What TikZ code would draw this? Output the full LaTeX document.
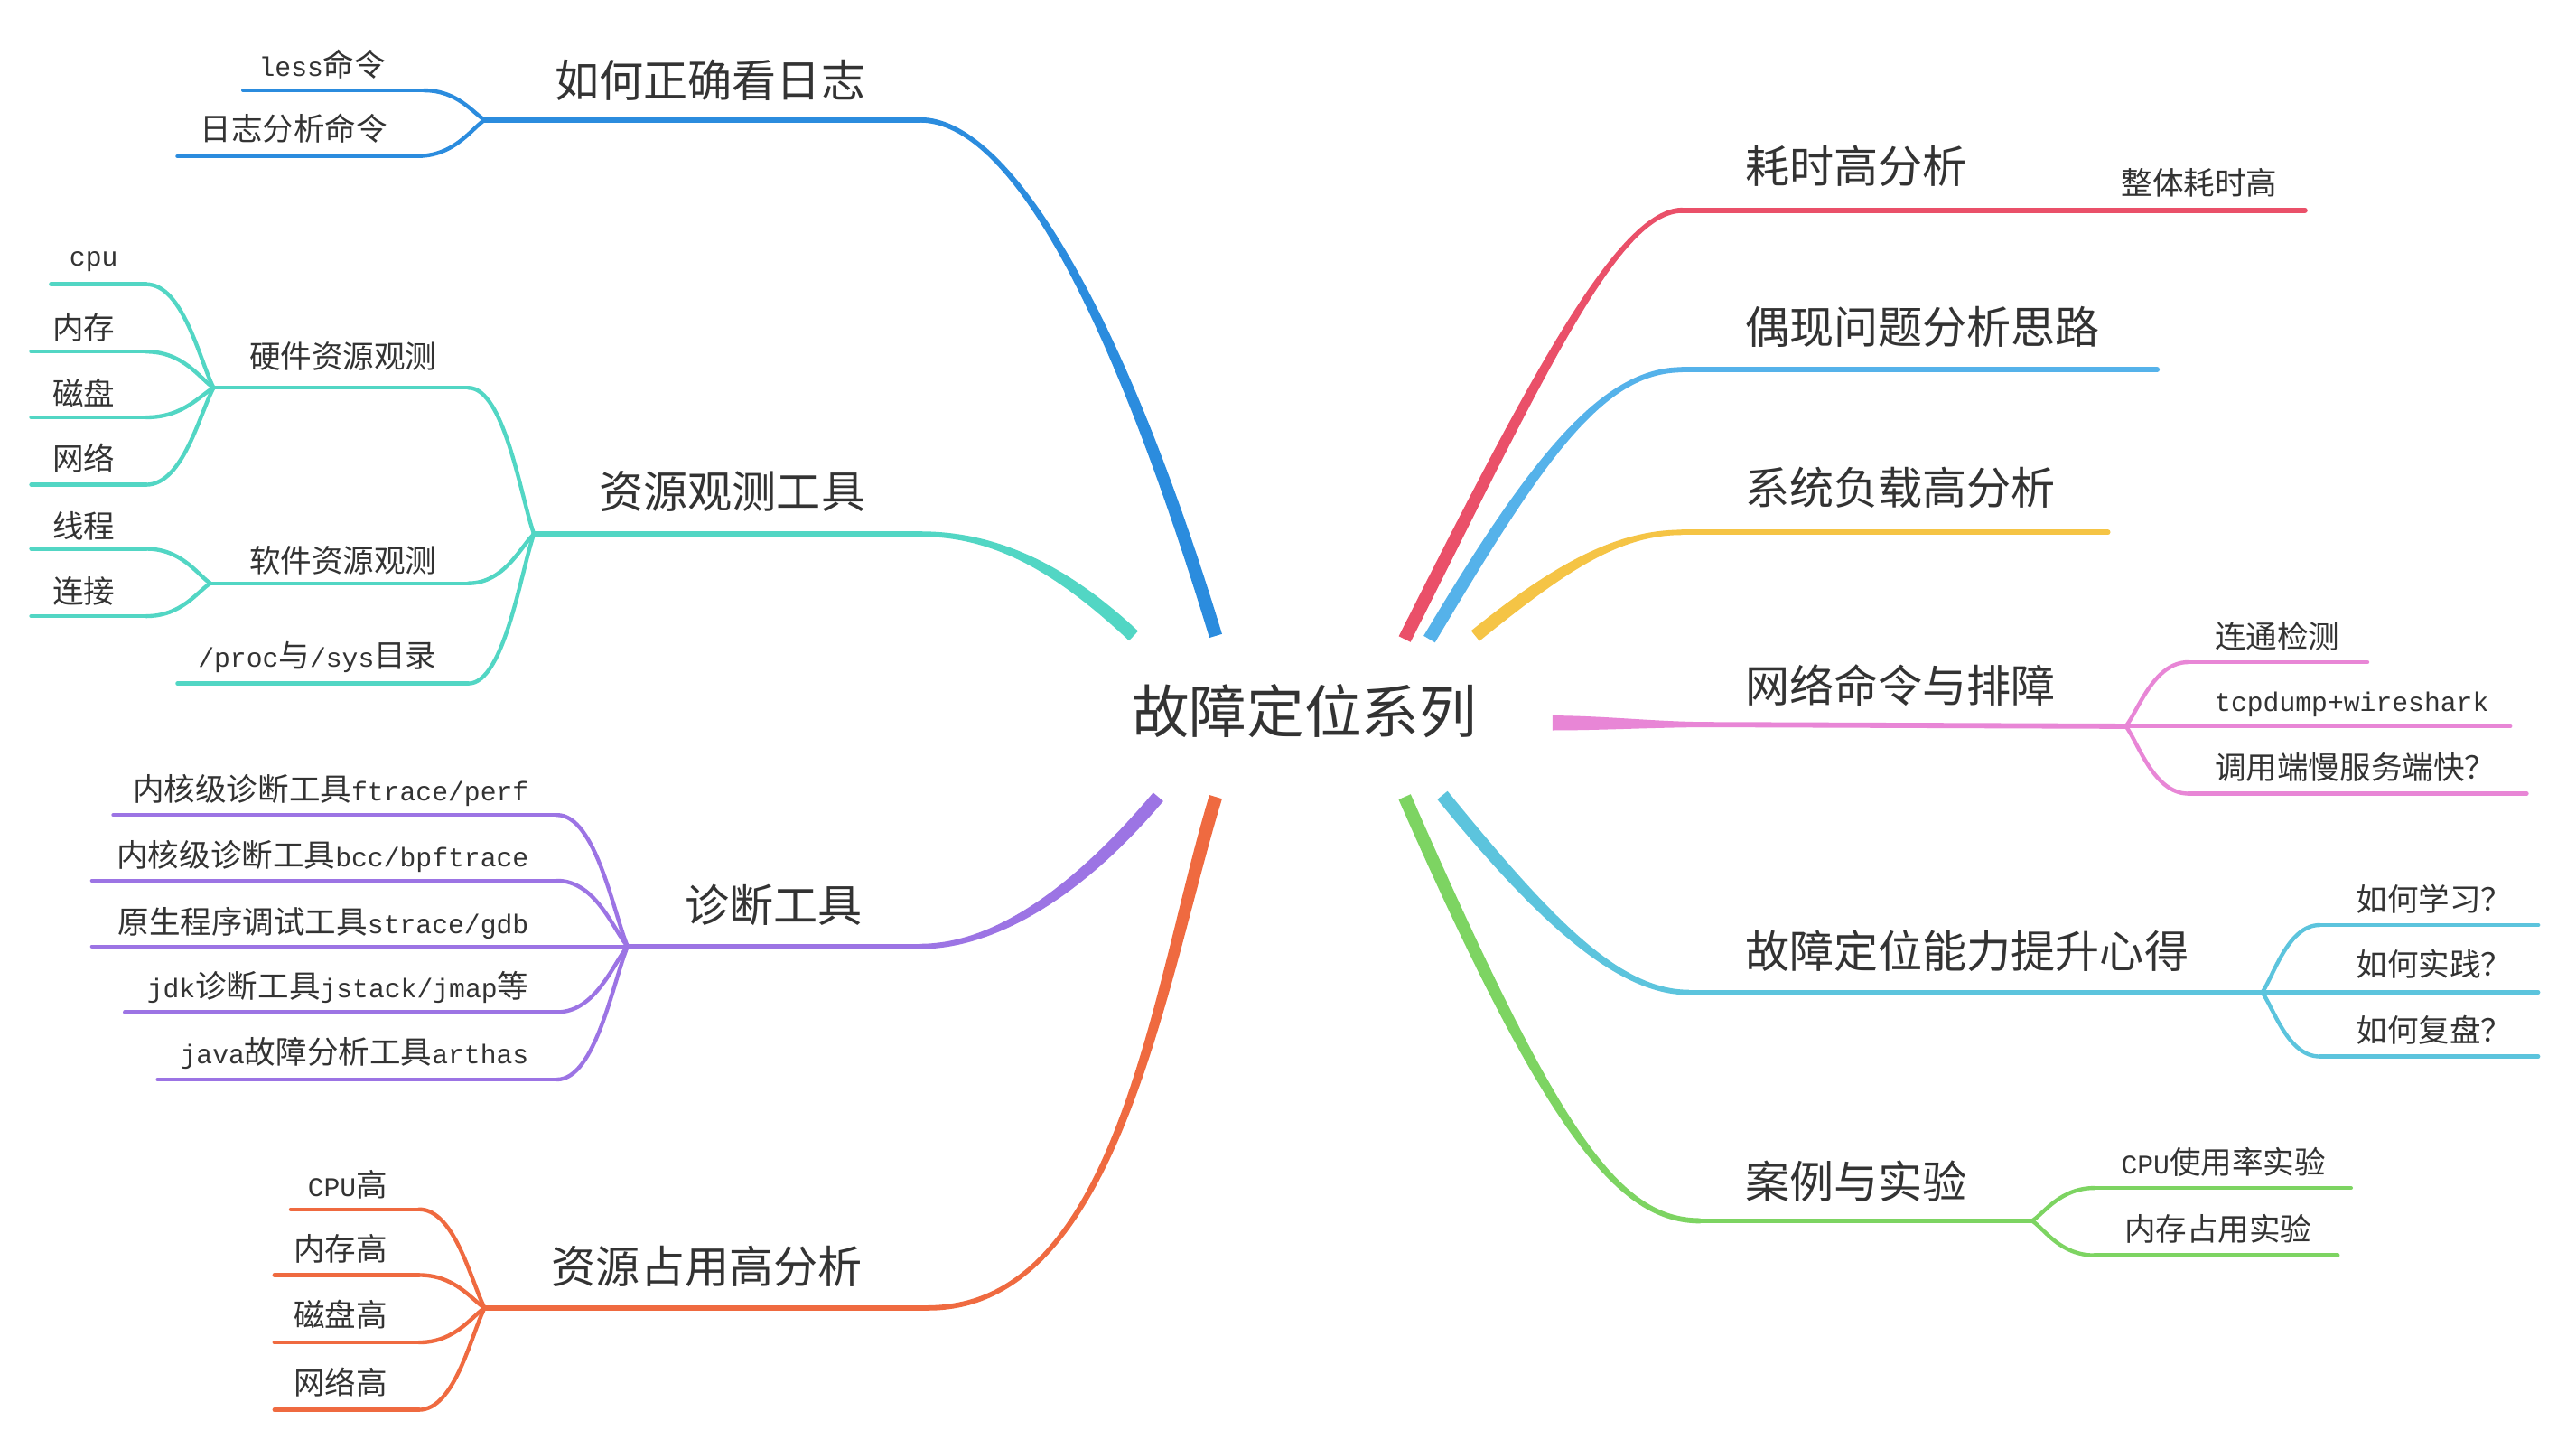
\documentclass[tikz,border=0pt]{standalone}
\usepackage{fontspec}
\setmainfont{Noto Sans CJK SC}
\newfontfamily\lat[Scale=0.86]{Liberation Mono}
\usetikzlibrary{calc}
\definecolor{txtc}{HTML}{333333}
\definecolor{cA}{HTML}{2B8CDE}
\definecolor{cB}{HTML}{52D6C4}
\definecolor{cC}{HTML}{9C74E4}
\definecolor{cD}{HTML}{EF6A40}
\definecolor{cE}{HTML}{EA5069}
\definecolor{cF}{HTML}{55B2EA}
\definecolor{cG}{HTML}{F5C445}
\definecolor{cH}{HTML}{E886D6}
\definecolor{cI}{HTML}{5CC4DD}
\definecolor{cJ}{HTML}{7DD462}
\tikzset{
  rootlbl/.style={inner sep=0pt,text=txtc,font=\fontsize{35}{40}\selectfont},
  mlbl/.style={inner sep=0pt,text=txtc,font=\fontsize{27}{30}\selectfont},
  clbl/.style={inner sep=0pt,text=txtc,font=\fontsize{19}{22}\selectfont},
  mainln/.style={line width=3.2pt,line cap=round},
  subln/.style={line width=2.4pt,line cap=round},
}
% tapered cubic: #1 colour, #2 thin end, #3 ctrl1, #4 ctrl2, #5 thick end, #6 half width thin, #7 half width thick
\newcommand\mytaper[7]{%
  \path ($(#2)!#6!90:(#3)$) coordinate (ta)
        ($(#2)!#6!-90:(#3)$) coordinate (tb)
        ($(#5)!#7!-90:(#4)$) coordinate (tc)
        ($(#5)!#7!90:(#4)$) coordinate (td);
  \fill[#1] (ta) .. controls ($(#3)+(ta)-(#2)$) and ($(#4)+(tc)-(#5)$) .. (tc)
        -- (td) .. controls ($(#4)+(td)-(#5)$) and ($(#3)+(tb)-(#2)$) .. (tb) -- cycle;}
% child link from branch point #1 to child line start #2
\newcommand\clink[3]{%
  \draw[subln,#3] let \p1=(#1), \p2=(#2) in
    (#2) .. controls ({\x2+0.55*(\x1-\x2)},{\y2}) and ({\x1-0.2*(\x1-\x2)},{\y1-0.25*(\y1-\y2)}) .. (#1);}
% child line: #1 colour, #2 branch point, #3 id, #4 free x, #5 link x, #6 y
\newcommand\kid[6]{%
  \coordinate (#3s) at (#4,#6);
  \coordinate (#3e) at (#5,#6);
  \draw[subln,#1] (#3s) -- (#3e);
  \clink{#2}{#3e}{#1}}
\begin{document}
\begin{tikzpicture}[x=1pt,y=-1pt]
\useasboundingbox (0,0) rectangle (1568,870);
\fill[white] (0,0) rectangle (1568,870);

\node[rootlbl] (root) at (794,433) {故障定位系列};

% ---------- A blue
\coordinate (Ar) at (740,387);
\coordinate (Ac) at (560,73);
\coordinate (A1) at (615,73);
\coordinate (A2) at (680,190);
\coordinate (Ab) at (295,73);
\mytaper{cA}{Ac}{A1}{A2}{Ar}{1.6pt}{4pt}
\draw[mainln,cA] (Ab) -- (Ac);
\node[mlbl,anchor=east] (nA) at (527,49) {如何正确看日志};
\kid{cA}{Ab}{a1}{148}{258}{55}
\kid{cA}{Ab}{a2}{108}{254}{95}
\node[clbl,anchor=east] (na1) at (235,39) {{\lat less}命令};
\node[clbl,anchor=east] (na2) at (236,78) {日志分析命令};

% ---------- B teal
\coordinate (Br) at (690,387);
\coordinate (Bc) at (560,325);
\coordinate (B1) at (605,325);
\coordinate (B2) at (645,345);
\coordinate (Bb) at (325,325);
\mytaper{cB}{Bc}{B1}{B2}{Br}{1.6pt}{4pt}
\draw[mainln,cB] (Bb) -- (Bc);
\node[mlbl,anchor=east] (nB) at (527,299) {资源观测工具};
\coordinate (Hb) at (130,236);
\coordinate (Sb) at (128,355);
\kid{cB}{Bb}{b1}{130}{285}{236}
\kid{cB}{Bb}{b2}{128}{285}{355}
\kid{cB}{Bb}{b3}{108}{285}{416}
\node[clbl,anchor=east] (nb1) at (266,217) {硬件资源观测};
\node[clbl,anchor=east] (nb2) at (266,341) {软件资源观测};
\node[clbl,anchor=east] (nb3) at (266,400) {{\lat /proc}与{\lat /sys}目录};
\kid{cB}{Hb}{h1}{31}{89}{173}
\kid{cB}{Hb}{h2}{19}{89}{214}
\kid{cB}{Hb}{h3}{19}{89}{254}
\kid{cB}{Hb}{h4}{19}{89}{295}
\kid{cB}{Sb}{s1}{19}{89}{334}
\kid{cB}{Sb}{s2}{19}{89}{375}
\node[clbl] (nh1) at (57,159) {\lat cpu};
\node[clbl] (nh2) at (51,199) {内存};
\node[clbl] (nh3) at (51,239) {磁盘};
\node[clbl] (nh4) at (51,279) {网络};
\node[clbl] (ns1) at (51,320) {线程};
\node[clbl] (ns2) at (51,360) {连接};

% ---------- C purple
\coordinate (Cr) at (705,485);
\coordinate (Cc) at (560,576);
\coordinate (C1) at (600,576);
\coordinate (C2) at (650,550);
\coordinate (Cb) at (382,576);
\mytaper{cC}{Cc}{C1}{C2}{Cr}{1.6pt}{4pt}
\draw[mainln,cC] (Cb) -- (Cc);
\node[mlbl,anchor=east] (nC) at (525,551) {诊断工具};
\kid{cC}{Cb}{c1}{69}{339}{496}
\kid{cC}{Cb}{c2}{56}{339}{536}
\kid{cC}{Cb}{c3}{56}{339}{576}
\kid{cC}{Cb}{c4}{76}{339}{616}
\kid{cC}{Cb}{c5}{96}{339}{657}
\node[clbl,anchor=east] (nc1) at (322,481) {内核级诊断工具{\lat ftrace/perf}};
\node[clbl,anchor=east] (nc2) at (322,521) {内核级诊断工具{\lat bcc/bpftrace}};
\node[clbl,anchor=east] (nc3) at (322,562) {原生程序调试工具{\lat strace/gdb}};
\node[clbl,anchor=east] (nc4) at (322,601) {{\lat jdk}诊断工具{\lat jstack/jmap}等};
\node[clbl,anchor=east] (nc5) at (322,641) {{\lat java}故障分析工具{\lat arthas}};

% ---------- D orange
\coordinate (Dr) at (740,485);
\coordinate (Dc) at (565,796);
\coordinate (D1) at (680,796);
\coordinate (D2) at (705,600);
\coordinate (Db) at (295,796);
\mytaper{cD}{Dc}{D1}{D2}{Dr}{1.6pt}{4pt}
\draw[mainln,cD] (Db) -- (Dc);
\node[mlbl,anchor=east] (nD) at (525,771) {资源占用高分析};
\kid{cD}{Db}{d1}{177}{255}{736}
\kid{cD}{Db}{d2}{167}{255}{776}
\kid{cD}{Db}{d3}{167}{255}{817}
\kid{cD}{Db}{d4}{167}{255}{858}
\node[clbl,anchor=east] (nd1) at (236,721) {{\lat CPU}高};
\node[clbl,anchor=east] (nd2) at (236,760) {内存高};
\node[clbl,anchor=east] (nd3) at (236,800) {磁盘高};
\node[clbl,anchor=east] (nd4) at (236,841) {网络高};

% ---------- E red
\coordinate (Er) at (855,389);
\coordinate (Ec) at (1024,128);
\coordinate (E1) at (985,128);
\coordinate (E2) at (935,230);
\coordinate (Eb) at (1262,128);
\coordinate (Ee) at (1403,128);
\mytaper{cE}{Ec}{E1}{E2}{Er}{1.6pt}{4pt}
\draw[mainln,cE] (Ec) -- (Eb);
\draw[mainln,cE] (Eb) -- (Ee);
\node[mlbl,anchor=west] (nE) at (1062,101) {耗时高分析};
\node[clbl,anchor=west] (ne1) at (1291,111) {整体耗时高};

% ---------- F light blue
\coordinate (Fr) at (870,389);
\coordinate (Fc) at (1024,225);
\coordinate (F1) at (975,225);
\coordinate (F2) at (935,280);
\coordinate (Fe) at (1313,225);
\mytaper{cF}{Fc}{F1}{F2}{Fr}{1.6pt}{4pt}
\draw[mainln,cF] (Fc) -- (Fe);
\node[mlbl,anchor=west] (nF) at (1062,199) {偶现问题分析思路};

% ---------- G yellow
\coordinate (Gr) at (898,387);
\coordinate (Gc) at (1024,324);
\coordinate (G1) at (985,324);
\coordinate (G2) at (950,345);
\coordinate (Ge) at (1283,324);
\mytaper{cG}{Gc}{G1}{G2}{Gr}{1.6pt}{4pt}
\draw[mainln,cG] (Gc) -- (Ge);
\node[mlbl,anchor=west] (nG) at (1062,297) {系统负载高分析};

% ---------- H pink
\coordinate (Hr) at (945,440);
\coordinate (Hc) at (1040,441);
\coordinate (H1) at (1010,441);
\coordinate (H2) at (975,440);
\coordinate (Hbr) at (1294,442);
\mytaper{cH}{Hc}{H1}{H2}{Hr}{1.6pt}{4.5pt}
\draw[mainln,cH] (Hc) -- (Hbr);
\node[mlbl,anchor=west] (nH) at (1062,417) {网络命令与排障};
\kid{cH}{Hbr}{k1}{1441}{1332}{403}
\kid{cH}{Hbr}{k2}{1528}{1330}{442}
\kid{cH}{Hbr}{k3}{1538}{1332}{483}
\node[clbl,anchor=west] (nk1) at (1348,387) {连通检测};
\node[clbl,anchor=west] (nk2) at (1348,429) {\lat tcpdump+wireshark};
\node[clbl,anchor=west] (nk3) at (1348,467) {调用端慢服务端快？};

% ---------- I cyan
\coordinate (Ir) at (878,484);
\coordinate (Ic) at (1028,604);
\coordinate (I1) at (985,604);
\coordinate (I2) at (940,560);
\coordinate (Ib) at (1377,604);
\mytaper{cI}{Ic}{I1}{I2}{Ir}{1.6pt}{4pt}
\draw[mainln,cI] (Ic) -- (Ib);
\node[mlbl,anchor=west] (nI) at (1062,579) {故障定位能力提升心得};
\kid{cI}{Ib}{i1}{1545}{1412}{563}
\kid{cI}{Ib}{i2}{1545}{1412}{604}
\kid{cI}{Ib}{i3}{1545}{1412}{643}
\node[clbl,anchor=west] (ni1) at (1434,547) {如何学习？};
\node[clbl,anchor=west] (ni2) at (1434,587) {如何实践？};
\node[clbl,anchor=west] (ni3) at (1434,627) {如何复盘？};

% ---------- J green
\coordinate (Jr) at (855,485);
\coordinate (Jc) at (1035,743);
\coordinate (J1) at (985,743);
\coordinate (J2) at (945,690);
\coordinate (Jb) at (1237,743);
\mytaper{cJ}{Jc}{J1}{J2}{Jr}{1.6pt}{4pt}
\draw[mainln,cJ] (Jc) -- (Jb);
\node[mlbl,anchor=west] (nJ) at (1062,719) {案例与实验};
\kid{cJ}{Jb}{j1}{1431}{1275}{723}
\kid{cJ}{Jb}{j2}{1423}{1275}{764}
\node[clbl,anchor=west] (nj1) at (1291,707) {{\lat CPU}使用率实验};
\node[clbl,anchor=west] (nj2) at (1293,748) {内存占用实验};
\end{tikzpicture}
\end{document}
